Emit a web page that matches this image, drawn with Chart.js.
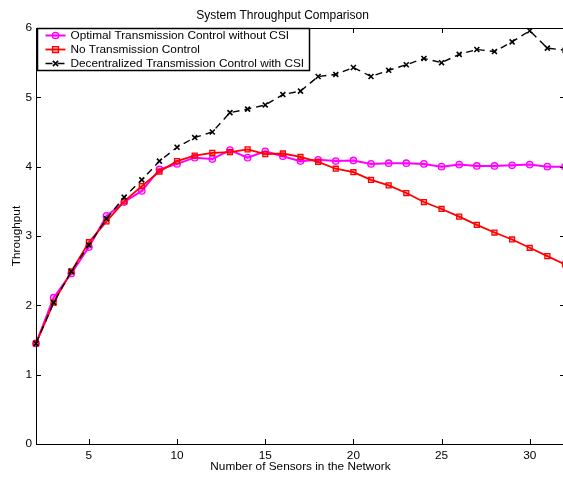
<!DOCTYPE html>
<html lang="en">
<head>
    <meta charset="UTF-8">
    <title>System Throughput Comparison</title>
    <style>
        html, body { margin: 0; padding: 0; background: #fff; overflow: hidden; }
        canvas { display: block; }
    </style>
</head>
<body>
    <canvas id="tpChart" width="565" height="477"></canvas>

    <script src="https://cdn.jsdelivr.net/npm/chart.js"></script>
    <script>
        // number of sensors (x values)
        const sensors = [2, 3, 4, 5, 6, 7, 8, 9, 10, 11, 12, 13, 14, 15, 16, 17,
                         18, 19, 20, 21, 22, 23, 24, 25, 26, 27, 28, 29, 30, 31, 32];

        // throughput
        const optimalNoCsi = [1.45, 2.11, 2.46, 2.84, 3.29, 3.49, 3.65, 3.96, 4.04, 4.13, 4.11,
                              4.24, 4.13, 4.22, 4.15, 4.08, 4.10, 4.08, 4.09, 4.04, 4.05, 4.05,
                              4.04, 4.00, 4.03, 4.01, 4.01, 4.02, 4.03, 4.00, 4.00];
        const noControl = [1.45, 2.04, 2.49, 2.91, 3.21, 3.50, 3.72, 3.93, 4.08, 4.16, 4.20,
                           4.21, 4.25, 4.18, 4.19, 4.14, 4.07, 3.97, 3.92, 3.81, 3.73, 3.62,
                           3.49, 3.39, 3.28, 3.16, 3.05, 2.95, 2.83, 2.71, 2.59];
        const decentralCsi = [1.45, 2.04, 2.49, 2.87, 3.25, 3.56, 3.81, 4.08, 4.28, 4.42, 4.50,
                              4.78, 4.83, 4.89, 5.04, 5.09, 5.30, 5.33, 5.43, 5.30, 5.39, 5.47,
                              5.56, 5.50, 5.62, 5.69, 5.66, 5.80, 5.96, 5.71, 5.68];

        const seriesNames = [
            'Optimal Transmission Control without CSI',
            'No Transmission Control',
            'Decentralized Transmission Control with CSI'
        ];

        // tick labels
        const xTicks = [5, 10, 15, 20, 25, 30];
        const yTicks = [0, 1, 2, 3, 4, 5, 6];

        const FONT = '"Liberation Sans", Arial, Helvetica, sans-serif';
        const FS = 11.8;
        Chart.defaults.font.family = FONT;
        Chart.defaults.font.size = FS;
        Chart.defaults.color = '#000';

        function toPoints(vals) {
            return sensors.map((s, i) => ({ x: s, y: vals[i] }));
        }

        // keep the plot box fixed, no extra room for tick labels
        function noPad(s) {
            s.paddingLeft = 0; s.paddingRight = 0;
            s.paddingTop = 0; s.paddingBottom = 0;
        }

        // box around the plot with inward ticks on every side
        const frame = {
            id: 'frame',
            afterDatasetsDraw(chart) {
                const { ctx, chartArea: a, scales } = chart;
                ctx.save();
                ctx.strokeStyle = '#000';
                ctx.lineWidth = 1;
                ctx.strokeRect(a.left + 0.5, a.top + 0.5, a.right - a.left - 1, a.bottom - a.top);
                ctx.beginPath();
                xTicks.forEach(t => {
                    const px = Math.round(scales.x.getPixelForValue(t)) + 0.5;
                    ctx.moveTo(px, a.bottom); ctx.lineTo(px, a.bottom - 5);
                    ctx.moveTo(px, a.top); ctx.lineTo(px, a.top + 5);
                });
                yTicks.forEach(t => {
                    const py = Math.round(scales.y.getPixelForValue(t)) + 0.5;
                    ctx.moveTo(a.left, py); ctx.lineTo(a.left + 5, py);
                    ctx.moveTo(a.right, py); ctx.lineTo(a.right - 5, py);
                });
                ctx.stroke();
                ctx.restore();
            }
        };

        // legend box in the upper left corner
        const boxLegend = {
            id: 'boxLegend',
            afterDraw(chart) {
                const { ctx, chartArea: a } = chart;
                const x0 = a.left + 1.5, y0 = a.top + 0.5, w = 272, h = 42;
                ctx.save();
                ctx.fillStyle = '#fff';
                ctx.fillRect(x0, y0, w, h);
                ctx.strokeStyle = '#000';
                ctx.lineWidth = 1.5;
                ctx.strokeRect(x0, y0, w, h);
                ctx.font = FS + 'px ' + FONT;
                ctx.textBaseline = 'middle';
                [0, 1, 2].forEach((di, row) => {
                    const ds = chart.data.datasets[di];
                    const cy = y0 + 7 + row * 14;
                    const mx = x0 + 18;
                    ctx.strokeStyle = ds.borderColor;
                    ctx.lineWidth = ds.borderWidth;
                    ctx.setLineDash(ds.borderDash || []);
                    ctx.beginPath();
                    ctx.moveTo(x0 + 8, cy); ctx.lineTo(x0 + 28, cy);
                    ctx.stroke();
                    ctx.setLineDash([]);
                    ctx.fillStyle = ds.pointBackgroundColor;
                    ctx.lineWidth = ds.pointBorderWidth;
                    ctx.beginPath();
                    if (ds.pointStyle === 'circle') {
                        ctx.arc(mx, cy, ds.pointRadius, 0, Math.PI * 2);
                        ctx.fill(); ctx.stroke();
                    } else if (ds.pointStyle === 'rect') {
                        const r = ds.pointRadius * 0.85;
                        ctx.rect(mx - r, cy - r, 2 * r, 2 * r);
                        ctx.fill(); ctx.stroke();
                    } else {
                        const r = ds.pointRadius * 0.75;
                        ctx.moveTo(mx - r, cy - r); ctx.lineTo(mx + r, cy + r);
                        ctx.moveTo(mx - r, cy + r); ctx.lineTo(mx + r, cy - r);
                        ctx.stroke();
                    }
                    ctx.fillStyle = '#000';
                    ctx.fillText(seriesNames[di], x0 + 33, cy + 0.5);
                });
                ctx.restore();
            }
        };

        const ctx = document.getElementById('tpChart').getContext('2d');
        const tpChart = new Chart(ctx, {
            type: 'line',
            data: {
                datasets: [{
                    label: seriesNames[0],
                    data: toPoints(optimalNoCsi),
                    borderColor: '#ff00ff',
                    backgroundColor: '#ff00ff',
                    pointBackgroundColor: 'rgba(255,0,255,0.25)',
                    borderWidth: 2,
                    pointStyle: 'circle',
                    pointRadius: 3.2,
                    pointBorderWidth: 1.3,
                    order: 2
                }, {
                    label: seriesNames[1],
                    data: toPoints(noControl),
                    borderColor: '#ff0000',
                    backgroundColor: '#ff0000',
                    pointBackgroundColor: 'rgba(255,0,0,0.25)',
                    borderWidth: 1.8,
                    pointStyle: 'rect',
                    pointRadius: 3.5,
                    pointBorderWidth: 1.3,
                    order: 1
                }, {
                    label: seriesNames[2],
                    data: toPoints(decentralCsi),
                    borderColor: '#000',
                    backgroundColor: '#000',
                    pointBackgroundColor: '#000',
                    borderWidth: 1.4,
                    borderDash: [7, 5],
                    pointStyle: 'crossRot',
                    pointRadius: 3.5,
                    pointBorderWidth: 1.6,
                    order: 0
                }]
            },
            options: {
                responsive: false,
                animation: false,
                devicePixelRatio: 1,
                layout: { padding: 0, autoPadding: false },
                datasets: { line: { clip: false, tension: 0 } },
                plugins: {
                    legend: { display: false },
                    tooltip: { enabled: false },
                    title: {
                        display: true,
                        text: 'System Throughput Comparison',
                        font: { size: 12, weight: 'normal' },
                        color: '#000',
                        padding: { top: 8, bottom: 5.6 }
                    }
                },
                scales: {
                    x: {
                        type: 'linear',
                        min: 2,
                        max: 32,
                        afterBuildTicks: s => { s.ticks = xTicks.map(v => ({ value: v })); },
                        afterFit: s => { s.height = 33; noPad(s); },
                        grid: { display: false, drawTicks: false },
                        border: { display: false },
                        ticks: { padding: 4.5, color: '#000' },
                        title: {
                            display: true,
                            text: 'Number of Sensors in the Network',
                            color: '#000',
                            padding: { top: 0, bottom: 3 }
                        }
                    },
                    y: {
                        min: 0,
                        max: 6,
                        afterBuildTicks: s => { s.ticks = yTicks.map(v => ({ value: v })); },
                        afterFit: s => { s.width = 36; noPad(s); },
                        grid: { display: false, drawTicks: false },
                        border: { display: false },
                        ticks: { padding: 4, color: '#000' },
                        title: {
                            display: true,
                            text: 'Throughput',
                            color: '#000',
                            padding: { top: 10, bottom: 0 }
                        }
                    }
                }
            },
            plugins: [frame, boxLegend]
        });
    </script>
</body>
</html>
